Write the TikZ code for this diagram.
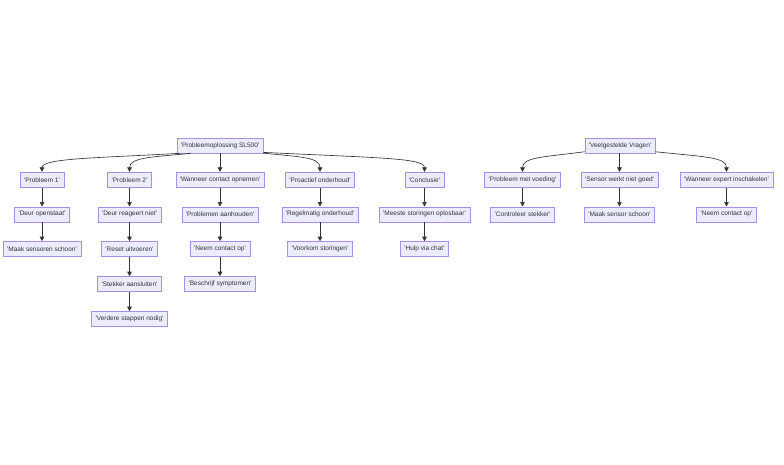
\documentclass[tikz,border=0pt]{standalone}
\usepackage{fontspec}
\setmainfont{Liberation Sans}[Ligatures=TeXOff]
\usetikzlibrary{arrows.meta}
\definecolor{nfill}{HTML}{ECECFF}
\definecolor{nline}{HTML}{A88EE6}
\definecolor{etxt}{HTML}{333333}
\tikzset{
  box/.style={draw=nline, fill=nfill, line width=0.6pt, text=etxt,
    font=\fontsize{6.5}{7.5}\selectfont, inner xsep=4pt, inner ysep=0pt,
    minimum height=15pt},
  edge/.style={draw=etxt, line width=0.65pt, -{Triangle[length=4.5pt,width=4.5pt]}}
}
\begin{document}
\begin{tikzpicture}[x=1pt,y=-1pt]
\useasboundingbox (0,0) rectangle (784,464);
\def\ra{145.5}\def\rb{179.7}\def\rc{214.3}\def\rd{249}\def\re{284}\def\rf{319}
% tree 1
\node[box] (root) at (220,\ra) {'Probleemoplossing SL500'};
\node[box] (p1) at (42,\rb) {'Probleem 1'};
\node[box] (p2) at (129.5,\rb) {'Probleem 2'};
\node[box] (wc) at (220,\rb) {'Wanneer contact opnemen'};
\node[box] (po) at (320,\rb) {'Proactief onderhoud'};
\node[box] (co) at (424.5,\rb) {'Conclusie'};
\node[box] (d1) at (42,\rc) {'Deur openstaat'};
\node[box] (d2) at (129.5,\rc) {'Deur reageert niet'};
\node[box] (pa) at (220,\rc) {'Problemen aanhouden'};
\node[box] (ro) at (320,\rc) {'Regelmatig onderhoud'};
\node[box] (ms) at (424.5,\rc) {'Meeste storingen oplosbaar'};
\node[box] (m1) at (42,\rd) {'Maak sensoren schoon'};
\node[box] (rs) at (129.5,\rd) {'Reset uitvoeren'};
\node[box] (nc) at (220,\rd) {'Neem contact op'};
\node[box] (vs) at (320,\rd) {'Voorkom storingen'};
\node[box] (hc) at (424.5,\rd) {'Hulp via chat'};
\node[box] (sa) at (129.5,\re) {'Stekker aansluiten'};
\node[box] (bs) at (220,\re) {'Beschrijf symptomen'};
\node[box] (vn) at (129.5,\rf) {'Verdere stappen nodig'};
% tree 2
\node[box] (root2) at (620,\ra) {'Veelgestelde Vragen'};
\node[box] (pv) at (522.5,\rb) {'Probleem met voeding'};
\node[box] (sw) at (619.5,\rb) {'Sensor werkt niet goed'};
\node[box] (we) at (726.5,\rb) {'Wanneer expert inschakelen'};
\node[box] (cs) at (522.5,\rc) {'Controleer stekker'};
\node[box] (mss) at (619.5,\rc) {'Maak sensor schoon'};
\node[box] (nc2) at (726.5,\rc) {'Neem contact op'};
% edges tree 1
\draw[edge] (root.191) .. controls (100,158) and (42,158) .. (p1.north);
\draw[edge] (root.195) .. controls (155,157) and (129.5,157) .. (p2.north);
\draw[edge] (root) -- (wc);
\draw[edge] (root.-10.5) .. controls (300,157) and (320,157) .. (po.north);
\draw[edge] (root.-9) .. controls (380,158) and (424.5,158) .. (co.north);
\draw[edge] (p1) -- (d1);
\draw[edge] (d1) -- (m1);
\draw[edge] (p2) -- (d2);
\draw[edge] (d2) -- (rs);
\draw[edge] (rs) -- (sa);
\draw[edge] (sa) -- (vn);
\draw[edge] (wc) -- (pa);
\draw[edge] (pa) -- (nc);
\draw[edge] (nc) -- (bs);
\draw[edge] (po) -- (ro);
\draw[edge] (ro) -- (vs);
\draw[edge] (co) -- (ms);
\draw[edge] (ms) -- (hc);
% edges tree 2
\draw[edge] (root2.190) .. controls (545,157) and (522.5,157) .. (pv.north);
\draw[edge] (root2.south -| sw.north) -- (sw.north);
\draw[edge] (root2.-10) .. controls (705,157) and (726.5,157) .. (we.north);
\draw[edge] (pv) -- (cs);
\draw[edge] (sw) -- (mss);
\draw[edge] (we) -- (nc2);
\end{tikzpicture}
\end{document}
